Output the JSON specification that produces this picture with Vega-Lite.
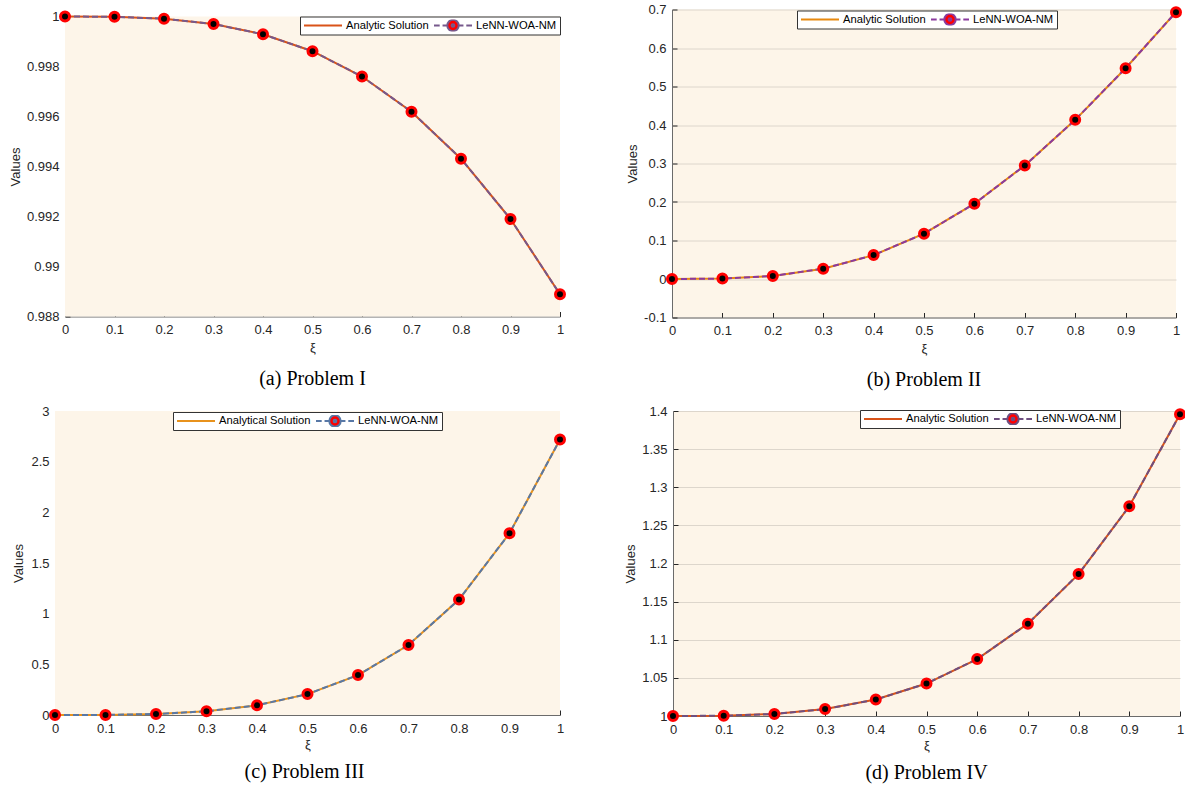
{
  "$schema": "https://vega.github.io/schema/vega-lite/v6.json",
  "background": "white",
  "padding": {"left": 9, "top": 1.5, "right": 0, "bottom": 5},
  "datasets": {
    "a": [
      {"xi": 0, "analytic": 1, "lenn": 1},
      {"xi": 0.1, "analytic": 0.999989, "lenn": 0.999989},
      {"xi": 0.2, "analytic": 0.999911, "lenn": 0.999911},
      {"xi": 0.3, "analytic": 0.9997, "lenn": 0.9997},
      {"xi": 0.4, "analytic": 0.999289, "lenn": 0.999289},
      {"xi": 0.5, "analytic": 0.998611, "lenn": 0.998611},
      {"xi": 0.6, "analytic": 0.9976, "lenn": 0.9976},
      {"xi": 0.7, "analytic": 0.996189, "lenn": 0.996189},
      {"xi": 0.8, "analytic": 0.994311, "lenn": 0.994311},
      {"xi": 0.9, "analytic": 0.9919, "lenn": 0.9919},
      {"xi": 1, "analytic": 0.988889, "lenn": 0.988889}
    ],
    "b": [
      {"xi": 0, "analytic": 0, "lenn": 0},
      {"xi": 0.1, "analytic": 0.001, "lenn": 0.001},
      {"xi": 0.2, "analytic": 0.00797, "lenn": 0.00797},
      {"xi": 0.3, "analytic": 0.02664, "lenn": 0.02664},
      {"xi": 0.4, "analytic": 0.06204, "lenn": 0.06204},
      {"xi": 0.5, "analytic": 0.11778, "lenn": 0.11778},
      {"xi": 0.6, "analytic": 0.19557, "lenn": 0.19557},
      {"xi": 0.7, "analytic": 0.29492, "lenn": 0.29492},
      {"xi": 0.8, "analytic": 0.41343, "lenn": 0.41343},
      {"xi": 0.9, "analytic": 0.54754, "lenn": 0.54754},
      {"xi": 1, "analytic": 0.69315, "lenn": 0.69315}
    ],
    "c": [
      {"xi": 0, "analytic": 0, "lenn": 0},
      {"xi": 0.1, "analytic": 0.0011, "lenn": 0.0011},
      {"xi": 0.2, "analytic": 0.00977, "lenn": 0.00977},
      {"xi": 0.3, "analytic": 0.03645, "lenn": 0.03645},
      {"xi": 0.4, "analytic": 0.09548, "lenn": 0.09548},
      {"xi": 0.5, "analytic": 0.20609, "lenn": 0.20609},
      {"xi": 0.6, "analytic": 0.39358, "lenn": 0.39358},
      {"xi": 0.7, "analytic": 0.69072, "lenn": 0.69072},
      {"xi": 0.8, "analytic": 1.13947, "lenn": 1.13947},
      {"xi": 0.9, "analytic": 1.79306, "lenn": 1.79306},
      {"xi": 1, "analytic": 2.71828, "lenn": 2.71828}
    ],
    "d": [
      {"xi": 0, "analytic": 1, "lenn": 1},
      {"xi": 0.1, "analytic": 1.00033, "lenn": 1.00033},
      {"xi": 0.2, "analytic": 1.00267, "lenn": 1.00267},
      {"xi": 0.3, "analytic": 1.00904, "lenn": 1.00904},
      {"xi": 0.4, "analytic": 1.02156, "lenn": 1.02156},
      {"xi": 0.5, "analytic": 1.04255, "lenn": 1.04255},
      {"xi": 0.6, "analytic": 1.07466, "lenn": 1.07466},
      {"xi": 0.7, "analytic": 1.12113, "lenn": 1.12113},
      {"xi": 0.8, "analytic": 1.1861, "lenn": 1.1861},
      {"xi": 0.9, "analytic": 1.27508, "lenn": 1.27508},
      {"xi": 1, "analytic": 1.39561, "lenn": 1.39561}
    ]
  },
  "resolve": {"scale": {"color": "independent"}, "legend": {"color": "independent"}},
  "spacing": 13.5,
  "vconcat": [
    {
      "spacing": 55,
      "resolve": {"scale": {"color": "independent"}, "legend": {"color": "independent"}},
      "hconcat": [
        {
          "width": 495, "height": 307,
          "view": {"fill": "white", "stroke": null},
          "title": {"text": "(a) Problem I", "orient": "bottom", "frame": "group", "anchor": "middle", "baseline": "top", "offset": 14},
          "resolve": {"axis": {"x": "independent", "y": "independent"}},
          "layer": [
            {
              "data": {"values": [{}]},
              "mark": {"type": "rect", "fill": "#FDF5E9", "stroke": null},
              "encoding": {
                "x": {"datum": 0, "type": "quantitative", "scale": {"domain": [0, 1], "nice": false}, "axis": null},
                "x2": {"datum": 1},
                "y": {"datum": 0.988, "type": "quantitative", "scale": {"domain": [0.988, 1], "range": [307, 7], "nice": false, "zero": false}, "axis": null},
                "y2": {"datum": 1}
              }
            },
            {
              "data": {"name": "a"},
              "mark": {"type": "line", "strokeWidth": 2},
              "encoding": {
                "x": {"field": "xi", "type": "quantitative", "scale": {"domain": [0, 1], "nice": false}, "axis": {"orient": "bottom", "title": "ξ", "values": [0, 0.1, 0.2, 0.3, 0.4, 0.5, 0.6, 0.7, 0.8, 0.9, 1], "titlePadding": 5}},
                "y": {"field": "analytic", "type": "quantitative", "scale": {"domain": [0.988, 1], "range": [307, 7], "nice": false, "zero": false}, "axis": {"orient": "left", "title": "Values", "values": [0.988, 0.99, 0.992, 0.994, 0.996, 0.998, 1], "titlePadding": 3.5}},
                "color": {"datum": "Analytic Solution", "scale": {"domain": ["Analytic Solution", "LeNN-WOA-NM"], "range": ["#D95319", "#76598C"]},
                  "legend": {"title": null, "legendX": 235, "legendY": 7,
                    "encode": {"symbols": {"update": {
                      "shape": {"signal": "datum.value === 'LeNN-WOA-NM' ? 'M-1,0L-0.7,0M-0.55,0L-0.32,0M0.32,0L0.55,0M0.7,0L1,0M0.3,0A0.3,0.3,0,1,1,-0.3,0A0.3,0.3,0,1,1,0.3,0ZM0.07,0A0.07,0.07,0,1,1,-0.07,0A0.07,0.07,0,1,1,0.07,0Z' : 'stroke'"},
                      "fill": {"signal": "datum.value === 'LeNN-WOA-NM' ? '#FF0000' : 'transparent'"},
                      "strokeDash": {"value": []}}}}}}
              }
            },
            {
              "data": {"name": "a"},
              "mark": {"type": "line", "strokeWidth": 2, "strokeDash": [6, 3]},
              "encoding": {
                "x": {"field": "xi", "type": "quantitative", "scale": {"domain": [0, 1], "nice": false}, "axis": null},
                "y": {"field": "lenn", "type": "quantitative", "scale": {"domain": [0.988, 1], "range": [307, 7], "nice": false, "zero": false}, "axis": null},
                "color": {"datum": "LeNN-WOA-NM"}
              }
            },
            {
              "data": {"name": "a"},
              "mark": {"type": "point", "filled": true, "fill": "#000000", "stroke": "#FF0000", "strokeWidth": 3, "size": 81, "opacity": 1},
              "encoding": {
                "x": {"field": "xi", "type": "quantitative", "scale": {"domain": [0, 1], "nice": false}, "axis": null},
                "y": {"field": "lenn", "type": "quantitative", "scale": {"domain": [0.988, 1], "range": [307, 7], "nice": false, "zero": false}, "axis": null}
              }
            }
          ]
        },
        {
          "width": 504, "height": 308,
          "data": {"name": "b"},
          "title": {"text": "(b) Problem II", "orient": "bottom", "frame": "group", "anchor": "middle", "baseline": "top", "offset": 14},
          "resolve": {"axis": {"x": "independent", "y": "independent"}},
          "layer": [
            {
              "mark": {"type": "line", "strokeWidth": 2},
              "encoding": {
                "x": {"field": "xi", "type": "quantitative", "scale": {"domain": [0, 1], "nice": false}, "axis": {"orient": "bottom", "title": "ξ", "values": [0, 0.1, 0.2, 0.3, 0.4, 0.5, 0.6, 0.7, 0.8, 0.9, 1], "titlePadding": 5}},
                "y": {"field": "analytic", "type": "quantitative", "scale": {"domain": [-0.1, 0.7], "nice": false, "zero": false}, "axis": {"orient": "left", "title": "Values", "values": [-0.1, 0, 0.1, 0.2, 0.3, 0.4, 0.5, 0.6, 0.7], "titlePadding": 4, "labelExpr": "replace(datum.label, '−', '-')"}},
                "color": {"datum": "Analytic Solution", "scale": {"domain": ["Analytic Solution", "LeNN-WOA-NM"], "range": ["#E8890F", "#8A3A9E"]},
                  "legend": {"title": null, "legendX": 125, "legendY": 1,
                    "encode": {"symbols": {"update": {
                      "shape": {"signal": "datum.value === 'LeNN-WOA-NM' ? 'M-1,0L-0.7,0M-0.55,0L-0.32,0M0.32,0L0.55,0M0.7,0L1,0M0.3,0A0.3,0.3,0,1,1,-0.3,0A0.3,0.3,0,1,1,0.3,0ZM0.07,0A0.07,0.07,0,1,1,-0.07,0A0.07,0.07,0,1,1,0.07,0Z' : 'stroke'"},
                      "fill": {"signal": "datum.value === 'LeNN-WOA-NM' ? '#FF0000' : 'transparent'"},
                      "strokeDash": {"value": []}}}}}}
              }
            },
            {
              "mark": {"type": "line", "strokeWidth": 2, "strokeDash": [6, 3]},
              "encoding": {
                "x": {"field": "xi", "type": "quantitative", "scale": {"domain": [0, 1], "nice": false}, "axis": null},
                "y": {"field": "lenn", "type": "quantitative", "scale": {"domain": [-0.1, 0.7], "nice": false, "zero": false}, "axis": null},
                "color": {"datum": "LeNN-WOA-NM"}
              }
            },
            {
              "mark": {"type": "point", "filled": true, "fill": "#000000", "stroke": "#FF0000", "strokeWidth": 3, "size": 81, "opacity": 1},
              "encoding": {
                "x": {"field": "xi", "type": "quantitative", "scale": {"domain": [0, 1], "nice": false}, "axis": null},
                "y": {"field": "lenn", "type": "quantitative", "scale": {"domain": [-0.1, 0.7], "nice": false, "zero": false}, "axis": null}
              }
            }
          ]
        }
      ]
    },
    {
      "spacing": 53,
      "resolve": {"scale": {"color": "independent"}, "legend": {"color": "independent"}},
      "hconcat": [
        {
          "width": 495, "height": 304,
          "view": {"fill": "white", "stroke": null},
          "title": {"text": "(c) Problem III", "orient": "bottom", "frame": "group", "anchor": "middle", "baseline": "top", "offset": 10.5, "dx": -8},
          "resolve": {"axis": {"x": "independent", "y": "independent"}},
          "layer": [
            {
              "data": {"values": [{}]},
              "mark": {"type": "rect", "fill": "#FDF5E9", "stroke": null},
              "encoding": {
                "x": {"datum": 0, "type": "quantitative", "scale": {"domain": [0, 1], "range": [-10, 495], "nice": false}, "axis": null},
                "x2": {"datum": 1},
                "y": {"datum": 0, "type": "quantitative", "scale": {"domain": [0, 3], "nice": false, "zero": false}, "axis": null},
                "y2": {"datum": 3}
              }
            },
            {
              "data": {"name": "c"},
              "mark": {"type": "line", "strokeWidth": 2},
              "encoding": {
                "x": {"field": "xi", "type": "quantitative", "scale": {"domain": [0, 1], "range": [-10, 495], "nice": false}, "axis": {"orient": "bottom", "title": "ξ", "values": [0, 0.1, 0.2, 0.3, 0.4, 0.5, 0.6, 0.7, 0.8, 0.9, 1], "titlePadding": 3}},
                "y": {"field": "analytic", "type": "quantitative", "scale": {"domain": [0, 3], "nice": false, "zero": false}, "axis": {"orient": "left", "title": "Values", "values": [0, 0.5, 1, 1.5, 2, 2.5, 3], "titlePadding": 5.4, "offset": 10}},
                "color": {"datum": "Analytical Solution", "scale": {"domain": ["Analytical Solution", "LeNN-WOA-NM"], "range": ["#E8921C", "#5878A6"]},
                  "legend": {"title": null, "legendX": 108, "legendY": 1,
                    "encode": {"symbols": {"update": {
                      "shape": {"signal": "datum.value === 'LeNN-WOA-NM' ? 'M-1,0L-0.7,0M-0.55,0L-0.32,0M0.32,0L0.55,0M0.7,0L1,0M0.3,0A0.3,0.3,0,1,1,-0.3,0A0.3,0.3,0,1,1,0.3,0ZM0.07,0A0.07,0.07,0,1,1,-0.07,0A0.07,0.07,0,1,1,0.07,0Z' : 'stroke'"},
                      "fill": {"signal": "datum.value === 'LeNN-WOA-NM' ? '#FF0000' : 'transparent'"},
                      "strokeDash": {"value": []}}}}}}
              }
            },
            {
              "data": {"name": "c"},
              "mark": {"type": "line", "strokeWidth": 2, "strokeDash": [6, 3]},
              "encoding": {
                "x": {"field": "xi", "type": "quantitative", "scale": {"domain": [0, 1], "range": [-10, 495], "nice": false}, "axis": null},
                "y": {"field": "lenn", "type": "quantitative", "scale": {"domain": [0, 3], "nice": false, "zero": false}, "axis": null},
                "color": {"datum": "LeNN-WOA-NM"}
              }
            },
            {
              "data": {"name": "c"},
              "mark": {"type": "point", "filled": true, "fill": "#000000", "stroke": "#FF0000", "strokeWidth": 3, "size": 81, "opacity": 1},
              "encoding": {
                "x": {"field": "xi", "type": "quantitative", "scale": {"domain": [0, 1], "range": [-10, 495], "nice": false}, "axis": null},
                "y": {"field": "lenn", "type": "quantitative", "scale": {"domain": [0, 3], "nice": false, "zero": false}, "axis": null}
              }
            }
          ]
        },
        {
          "width": 507, "height": 305,
          "data": {"name": "d"},
          "title": {"text": "(d) Problem IV", "orient": "bottom", "frame": "group", "anchor": "middle", "baseline": "top", "offset": 10.5},
          "resolve": {"axis": {"x": "independent", "y": "independent"}},
          "layer": [
            {
              "mark": {"type": "line", "strokeWidth": 2},
              "encoding": {
                "x": {"field": "xi", "type": "quantitative", "scale": {"domain": [0, 1], "nice": false}, "axis": {"orient": "bottom", "title": "ξ", "values": [0, 0.1, 0.2, 0.3, 0.4, 0.5, 0.6, 0.7, 0.8, 0.9, 1], "titlePadding": 3}},
                "y": {"field": "analytic", "type": "quantitative", "scale": {"domain": [1, 1.4], "nice": false, "zero": false}, "axis": {"orient": "left", "title": "Values", "values": [1, 1.05, 1.1, 1.15, 1.2, 1.25, 1.3, 1.35, 1.4], "titlePadding": 4}},
                "color": {"datum": "Analytic Solution", "scale": {"domain": ["Analytic Solution", "LeNN-WOA-NM"], "range": ["#D95319", "#6E4F80"]},
                  "legend": {"title": null, "legendX": 187, "legendY": -1,
                    "encode": {"symbols": {"update": {
                      "shape": {"signal": "datum.value === 'LeNN-WOA-NM' ? 'M-1,0L-0.7,0M-0.55,0L-0.32,0M0.32,0L0.55,0M0.7,0L1,0M0.3,0A0.3,0.3,0,1,1,-0.3,0A0.3,0.3,0,1,1,0.3,0ZM0.07,0A0.07,0.07,0,1,1,-0.07,0A0.07,0.07,0,1,1,0.07,0Z' : 'stroke'"},
                      "fill": {"signal": "datum.value === 'LeNN-WOA-NM' ? '#FF0000' : 'transparent'"},
                      "strokeDash": {"value": []}}}}}}
              }
            },
            {
              "mark": {"type": "line", "strokeWidth": 2, "strokeDash": [6, 3]},
              "encoding": {
                "x": {"field": "xi", "type": "quantitative", "scale": {"domain": [0, 1], "nice": false}, "axis": null},
                "y": {"field": "lenn", "type": "quantitative", "scale": {"domain": [1, 1.4], "nice": false, "zero": false}, "axis": null},
                "color": {"datum": "LeNN-WOA-NM"}
              }
            },
            {
              "mark": {"type": "point", "filled": true, "fill": "#000000", "stroke": "#FF0000", "strokeWidth": 3, "size": 81, "opacity": 1},
              "encoding": {
                "x": {"field": "xi", "type": "quantitative", "scale": {"domain": [0, 1], "nice": false}, "axis": null},
                "y": {"field": "lenn", "type": "quantitative", "scale": {"domain": [1, 1.4], "nice": false, "zero": false}, "axis": null}
              }
            }
          ]
        }
      ]
    }
  ],
  "config": {
    "view": {"fill": "#FDF5E9", "stroke": null},
    "font": "Liberation Sans",
    "axis": {
      "labelFont": "Liberation Sans", "labelFontSize": 13, "labelColor": "#262626",
      "titleFont": "Liberation Sans", "titleFontSize": 13, "titleFontWeight": "normal", "titleColor": "#262626",
      "domainColor": "#6b6b6b", "domainWidth": 1, "tickColor": "#262626", "tickSize": -5, "tickWidth": 1,
      "gridColor": "#DDD6CC", "gridWidth": 1, "format": "~g", "labelFlush": false
    },
    "axisX": {"grid": false, "labelPadding": 12},
    "axisY": {"grid": true, "labelPadding": 11},
    "legend": {
      "orient": "none", "direction": "horizontal", "fillColor": "#FFFFFF", "strokeColor": "#333333",
      "padding": 3, "symbolSize": 1444, "clipHeight": 12, "symbolStrokeWidth": 2,
      "labelFont": "Liberation Sans", "labelFontSize": 11.2, "labelColor": "#000000",
      "labelOffset": 3, "columnPadding": 4, "labelLimit": 0, "zindex": 1
    },
    "title": {"font": "Liberation Serif", "fontSize": 20, "fontWeight": "normal", "color": "#000000"}
  }
}
